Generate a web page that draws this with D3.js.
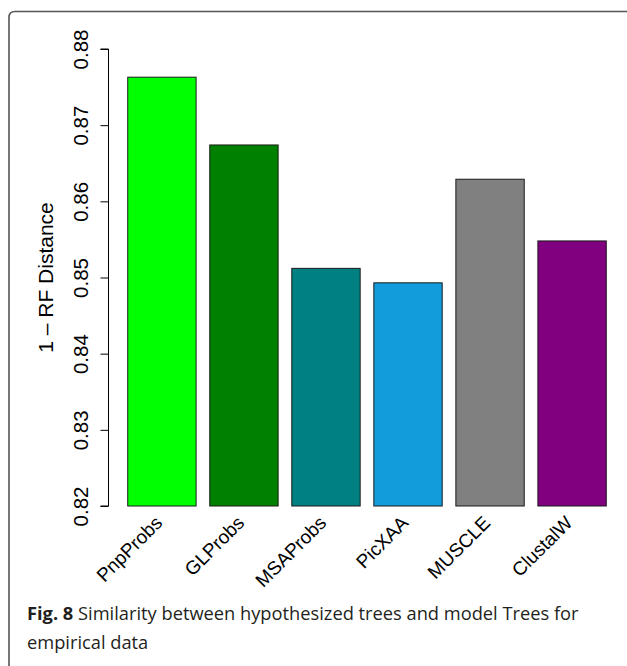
<!DOCTYPE html>
<html>
<head>
<meta charset="utf-8">
<script src="https://cdn.jsdelivr.net/npm/d3@7"></script>
<style>
  html, body { margin: 0; padding: 0; background: #fff; }
  svg { display: block; }
</style>
</head>
<body>
<svg id="chart" width="627" height="666"></svg>
<script>
// ---- data ----
const categories = ["PnpProbs", "GLProbs", "MSAProbs", "PicXAA", "MUSCLE", "ClustalW"];
const values = [0.8763, 0.8674, 0.8512, 0.8493, 0.8629, 0.8548];
const barColors = ["#00ff00", "#008000", "#008080", "#139cdb", "#808080", "#800080"];
const yTicks = [0.82, 0.83, 0.84, 0.85, 0.86, 0.87, 0.88];
const yDomain = [0.82, 0.88];
const yTitle = "1 \u2013 RF Distance";
const captionBold = "Fig. 8";
const captionLine1 = " Similarity between hypothesized trees and model Trees for";
const captionLine2 = "empirical data";

const svg = d3.select("#chart");

// frame
svg.append("path")
  .attr("d", "M627,11.5 L15,11.5 Q9,11.5 9,17.5 L9,666")
  .attr("fill", "none")
  .attr("stroke", "#555")
  .attr("stroke-width", 1.6);

const y = d3.scaleLinear().domain(yDomain).range([506, 49]);
const x = d3.scaleBand().domain(categories)
  .range([120.9, 613.1]).paddingInner(1/6).paddingOuter(1/12);

// bars
svg.append("g").selectAll("rect")
  .data(categories)
  .join("rect")
  .attr("x", d => x(d))
  .attr("y", (d, i) => y(values[i]))
  .attr("width", x.bandwidth())
  .attr("height", (d, i) => y(yDomain[0]) - y(values[i]))
  .attr("fill", (d, i) => barColors[i])
  .attr("stroke", "#1a1a1a")
  .attr("stroke-width", 1);

// y axis
const yAxis = d3.axisLeft(y).tickValues(yTicks).tickSize(8).tickPadding(0)
  .tickFormat(d3.format(".2f"));
const gy = svg.append("g").attr("transform", "translate(108.5,0)").call(yAxis);
gy.select(".domain").attr("d", `M-8,${y(0.88)}H0V${y(0.82)}H-8`).attr("stroke", "#000");
gy.selectAll(".tick line").attr("stroke", "#000");
gy.selectAll(".tick text")
  .attr("x", null).attr("dy", null)
  .attr("transform", "translate(-20.5,0) rotate(-90)")
  .attr("text-anchor", "middle")
  .attr("font-family", "Liberation Sans, Arial, sans-serif")
  .attr("font-size", 20.5)
  .attr("fill", "#000");

// y title
svg.append("text")
  .attr("transform", `translate(53,${(y(0.82) + y(0.88)) / 2}) rotate(-90)`)
  .attr("text-anchor", "middle")
  .attr("font-family", "Liberation Sans, Arial, sans-serif")
  .attr("font-size", 21)
  .attr("fill", "#000")
  .text(yTitle);

// x labels
svg.append("g").selectAll("text")
  .data(categories)
  .join("text")
  .attr("transform", d => `translate(${x(d) + x.bandwidth() / 2 + 1.5},${524}) rotate(-45)`)
  .attr("text-anchor", "end")
  .attr("font-family", "Liberation Sans, Arial, sans-serif")
  .attr("font-size", 19)
  .attr("fill", "#000")
  .text(d => d);

// caption
const cap = svg.append("text")
  .attr("x", 27).attr("y", 620)
  .attr("font-family", "Open Sans, Noto Sans, sans-serif")
  .attr("font-size", 18)
  .attr("fill", "#231f20");
cap.append("tspan").attr("font-weight", "bold").text(captionBold);
cap.append("tspan").text(captionLine1);
const w = cap.node().getComputedTextLength();
const fs = 18 * 552 / w;
cap.attr("font-size", fs);

svg.append("text")
  .attr("x", 27).attr("y", 649)
  .attr("font-family", "Open Sans, Noto Sans, sans-serif")
  .attr("font-size", fs)
  .attr("fill", "#231f20")
  .text(captionLine2);
</script>
</body>
</html>
